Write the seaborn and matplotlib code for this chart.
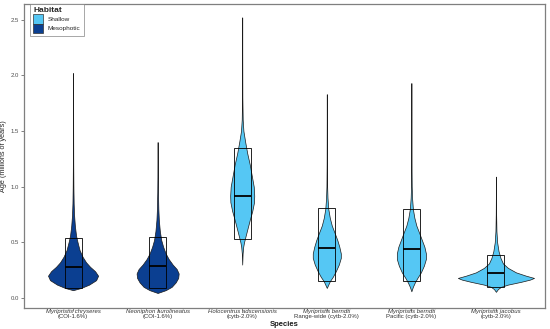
import matplotlib
import matplotlib.pyplot as plt
import matplotlib.transforms as mtransforms
import numpy as np
import seaborn as sns
from matplotlib.patches import Patch, Rectangle

matplotlib.use("Agg")
sns.set_theme(style="white")
plt.rcParams["font.family"] = ["Liberation Sans", "DejaVu Sans"]

# species, habitat, summary stats (millions of years)
species = ["Myripristis chryseres", "Neoniphon aurolineatus", "Holocentrus adscensionis",
           "Myripristis berndti", "Myripristis berndti", "Myripristis jacobus"]
subtitles = ["(COI-1.6%)", "(COI-1.6%)", "(cytb-2.0%)",
             "Range-wide (cytb-2.0%)", "Pacific (cytb-2.0%)", "(cytb-2.0%)"]
habitat = ["Mesophotic", "Mesophotic", "Shallow", "Shallow", "Shallow", "Shallow"]
box_low = [0.09, 0.09, 0.53, 0.15, 0.15, 0.10]
box_high = [0.54, 0.55, 1.35, 0.81, 0.80, 0.39]
medians = [0.28, 0.29, 0.92, 0.45, 0.44, 0.22]

# violin outlines: age levels and relative half-widths
ages_1 = [0.07, 0.09, 0.12, 0.16, 0.20, 0.24, 0.28, 0.32, 0.37, 0.43, 0.50, 0.56, 0.65, 0.75, 0.85, 1.0, 1.2, 1.5, 1.8, 2.02]
dens_1 = [0, 8, 16, 23, 25, 22, 17, 13, 9.5, 6.5, 4.5, 3.0, 1.8, 1.0, 0.6, 0.35, 0.2, 0.12, 0.08, 0]
ages_2 = [0.045, 0.07, 0.10, 0.14, 0.18, 0.22, 0.26, 0.30, 0.35, 0.40, 0.46, 0.52, 0.60, 0.70, 0.80, 0.95, 1.1, 1.25, 1.40]
dens_2 = [0, 8, 14, 18, 20.5, 21, 19, 15, 11, 8, 5.5, 3.6, 2.2, 1.2, 0.7, 0.35, 0.2, 0.1, 0]
ages_3 = [0.30, 0.40, 0.46, 0.50, 0.55, 0.62, 0.70, 0.78, 0.86, 0.92, 1.0, 1.10, 1.20, 1.30, 1.40, 1.50, 1.60, 1.80, 2.10, 2.52]
dens_3 = [0, 0.4, 1.0, 1.8, 3.2, 5.2, 7.5, 10, 11.8, 12, 11.5, 9.5, 7.5, 5.0, 3.0, 1.2, 0.5, 0.15, 0.08, 0]
ages_4 = [0.09, 0.12, 0.15, 0.19, 0.24, 0.30, 0.36, 0.40, 0.46, 0.52, 0.58, 0.65, 0.72, 0.80, 0.90, 1.0, 1.2, 1.5, 1.83]
dens_4 = [0, 1.5, 3, 6, 9, 12, 14, 14, 12.5, 10.5, 8, 5.0, 3.0, 1.5, 0.7, 0.35, 0.15, 0.08, 0]
ages_5 = [0.06, 0.10, 0.14, 0.18, 0.23, 0.29, 0.35, 0.40, 0.46, 0.52, 0.58, 0.65, 0.72, 0.80, 0.90, 1.0, 1.2, 1.5, 1.93]
dens_5 = [0, 1.5, 3.5, 6, 9.5, 12.5, 14.5, 14.5, 13, 10.5, 8, 5.0, 3.0, 1.5, 0.7, 0.35, 0.15, 0.08, 0]
ages_6 = [0.055, 0.08, 0.10, 0.12, 0.145, 0.165, 0.18, 0.20, 0.23, 0.27, 0.31, 0.36, 0.42, 0.50, 0.60, 0.75, 0.9, 1.09]
dens_6 = [0, 2, 5, 12, 25, 34, 38, 30, 20, 12, 7, 4.5, 2.6, 1.2, 0.5, 0.2, 0.1, 0]
violin_ages = [ages_1, ages_2, ages_3, ages_4, ages_5, ages_6]
violin_dens = [dens_1, dens_2, dens_3, dens_4, dens_5, dens_6]

colors = {"Shallow": "#55C7F4", "Mesophotic": "#0B3F91"}
width_scale = 1 / 84.4
box_half = 0.1

fig = plt.figure(figsize=(5.5, 3.29), dpi=100)
ax = fig.add_axes([24 / 550, 1 - 308 / 329, 521 / 550, 304 / 329])

for i in range(len(species)):
    y = np.array(violin_ages[i])
    w = np.array(violin_dens[i]) * width_scale
    ax.fill_betweenx(y, i - w, i + w, facecolor=colors[habitat[i]], edgecolor="#1a1a1a", linewidth=0.5, zorder=2)
    ax.add_patch(Rectangle((i - box_half, box_low[i]), 2 * box_half, box_high[i] - box_low[i],
                           fill=False, edgecolor="black", linewidth=0.6, zorder=3))
    ax.plot([i - box_half, i + box_half], [medians[i], medians[i]], color="black", linewidth=1.3,
            solid_capstyle="butt", zorder=4)

ax.set_xlim(-0.58, 5.58)
ax.set_ylim(-0.09, 2.64)
ax.set_yticks([0.0, 0.5, 1.0, 1.5, 2.0, 2.5])
ax.set_yticklabels(["0.0", "0.5", "1.0", "1.5", "2.0", "2.5"])
ax.set_xticks(range(len(species)))
ax.set_xticklabels([])
ax.tick_params(axis="both", labelsize=4.3, colors="#4d4d4d", length=2, width=0.5, pad=1.5, bottom=True, left=True)

# two-line category labels: italic species name, plain marker/region line
trans = mtransforms.blended_transform_factory(ax.transData, ax.transAxes)
for i in range(len(species)):
    ax.text(i, -0.0118, species[i], transform=trans, ha="center", va="center", fontsize=4.3,
            fontstyle="italic", color="#333333")
    ax.text(i, -0.0275, subtitles[i], transform=trans, ha="center", va="center", fontsize=4.3,
            color="#333333")
fig.text(ax.get_position().x0 + ax.get_position().width / 2, 1 - 324 / 329, "Species", ha="center",
         va="center", fontsize=5.5, fontweight="bold", color="#1a1a1a")
ax.set_ylabel("Age (millions of years)", fontsize=5.2, labelpad=3)
for side in ["left", "bottom", "right", "top"]:
    ax.spines[side].set_color("#7f7f7f")
    ax.spines[side].set_linewidth(0.9)

handles = [Patch(facecolor=colors["Shallow"], edgecolor="#333333", linewidth=0.5, label="Shallow"),
           Patch(facecolor=colors["Mesophotic"], edgecolor="#333333", linewidth=0.5, label="Mesophotic")]
leg = ax.legend(handles=handles, title="Habitat", loc="upper left", bbox_to_anchor=(30 / 550, 1 - 4 / 329),
                bbox_transform=fig.transFigure, fontsize=4.6, title_fontsize=6.0, frameon=True,
                fancybox=False, borderaxespad=0, handlelength=1.6, handleheight=1.9, handletextpad=0.7,
                labelspacing=0.0, borderpad=0.5)
leg.get_frame().set_edgecolor("#7f7f7f")
leg.get_frame().set_linewidth(0.6)
leg._legend_box.align = "left"
leg.get_title().set_fontweight("semibold")

fig.savefig("out.png", dpi=100)
